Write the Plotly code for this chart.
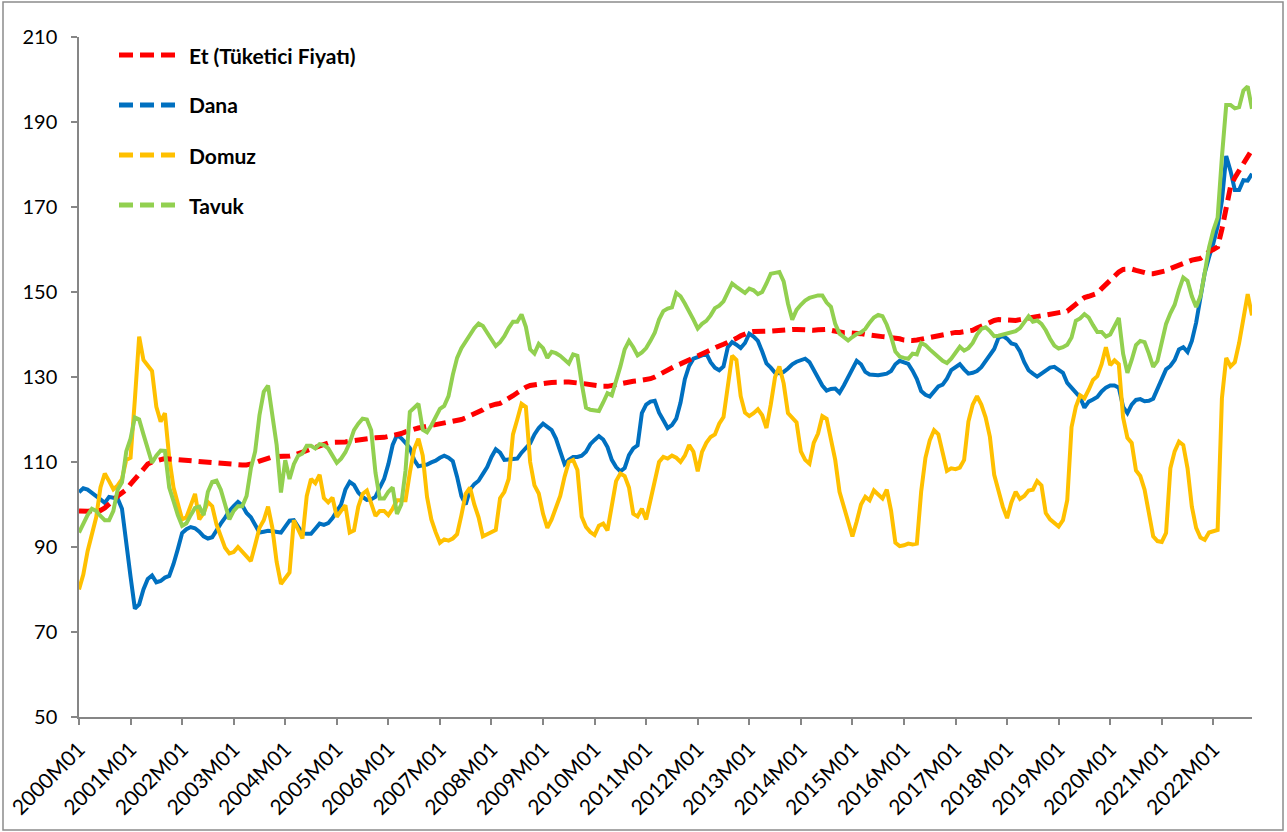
import plotly.graph_objects as go

# ---- categories (2000M01 .. 2022M10) ----
years = list(range(2000, 2023))
months = [f"{y}M{m:02d}" for y in years for m in range(1, 13)][:274]
tick_labels = [f"{y}M01" for y in years]

# ---- series values ----
et = [
    98.5, 98.4, 98.4, 98.5, 98.5, 98.6, 99.2, 100, 101, 102, 102.8, 103.5,
    104.8, 106, 107.2, 108.5, 109.5, 110, 110.3, 110.6, 110.8, 110.7, 110.6, 110.5,
    110.4, 110.4, 110.3, 110.2, 110.1, 110, 110, 109.9, 109.8, 109.8, 109.7, 109.5,
    109.4, 109.3, 109.3, 109.3, 109.5, 109.8, 110.2, 110.6, 111, 111.2, 111.3, 111.3,
    111.3, 111.4, 111.6, 112, 112.4, 112.8, 113.1, 113.5, 113.9, 114.2, 114.5, 114.6,
    114.6, 114.7, 114.7, 114.9, 115.1, 115.3, 115.5, 115.6, 115.6, 115.7, 115.7, 115.8,
    116, 116.2, 116.3, 116.7, 117.1, 117.5, 117.8, 118, 118.2, 118.4, 118.6, 118.7,
    118.8, 119, 119.2, 119.5, 119.7, 120, 120.4, 120.8, 121.2, 121.7, 122.3, 123,
    123.4, 123.6, 123.8, 124.3, 125, 125.6, 126.3, 127, 127.6, 128, 128.2, 128.4,
    128.5, 128.6, 128.7, 128.8, 128.8, 128.8, 128.8, 128.8, 128.6, 128.5, 128.3, 128.1,
    128, 127.9, 127.8, 127.8, 128, 128.2, 128.5, 128.8, 128.9, 129, 129.1, 129.2,
    129.4, 129.6, 130, 130.6, 131.2, 131.7, 132.2, 132.7, 133.1, 133.6, 134.1, 134.6,
    135.1, 135.5, 136, 136.5, 137, 137.3, 137.7, 138.1, 138.6, 139.1, 139.7, 140.2,
    140.5, 140.7, 140.8, 140.8, 140.8, 140.8, 140.9, 141.1, 141.2, 141.2, 141.2, 141.2,
    141.1, 141.1, 141, 141, 141.1, 141.2, 141.2, 141, 140.8, 140.5, 140.4, 140.4,
    140.4, 140.3, 140.2, 140, 139.8, 139.7, 139.6, 139.5, 139.4, 139.3, 139.2, 139,
    138.7, 138.6, 138.6, 138.7, 138.9, 139.1, 139.4, 139.6, 139.8, 140, 140.2, 140.4,
    140.5, 140.5, 140.6, 140.7, 141, 141.5, 142, 142.6, 143, 143.3, 143.5, 143.4,
    143.3, 143.2, 143.3, 143.5, 143.7, 143.9, 144.1, 144.3, 144.5, 144.6, 144.8, 145,
    145.1, 145.3, 145.5, 146.3, 147, 148, 148.7, 149, 149.2, 149.7, 150.8, 151.8,
    152.8, 153.8, 154.7, 155.3, 155.5, 155.4, 155.1, 154.8, 154.5, 154.3, 154.3, 154.5,
    154.7, 155, 155.5, 155.9, 156.4, 156.9, 157.3, 157.5, 157.7, 157.9, 158.6, 159.5,
    160, 160.6, 164.8, 170.5, 174.8, 176.9, 178.5, 180.5, 181.6, 183.5,
]

dana = [
    102.9, 103.8, 103.5, 102.8, 102, 101.2, 100.4, 101.8, 101.6, 101.4, 99, 90,
    83, 75.5, 76.5, 80, 82.5, 83.3, 81.7, 82, 82.8, 83.2, 86, 89.5,
    93.3, 94.2, 94.7, 94.4, 93.6, 92.5, 92, 92.3, 94, 95.5, 96.9, 98.5,
    99.6, 100.6, 99.8, 98, 97, 95, 93.4, 93.6, 93.8, 93.7, 93.5, 93.4,
    94.8, 96.2, 96.3, 94.8, 93.2, 93.1, 93.1, 94.3, 95.5, 95.2, 95.6, 96.8,
    98.5, 100, 103.5, 105.3, 104.6, 102.8, 101.8, 101.1, 101.2, 101.8, 104, 106,
    109.5, 114, 116.3, 115.6, 114.5, 113.3, 110.5, 109, 109.2, 109.4, 109.9, 110.3,
    111, 111.5, 111, 110.2, 106.5, 102, 100, 103.5, 104.8, 105.6, 107.2, 108.8,
    111.2, 113, 112.2, 110.5, 110.6, 110.7, 110.8, 112.2, 113.4, 114.4, 116.5, 118,
    119, 118.3, 117.5, 115.5, 112.5, 109.5, 110.5, 111.2, 111.2, 111.5, 112.4, 114.2,
    115.2, 116.1, 115.3, 113.5, 110.5, 108.8, 107.8, 108.6, 111.6, 113.2, 113.9, 121.5,
    123.5, 124.2, 124.4, 121.6, 119.8, 118, 118.7, 120.2, 124, 129.5, 132.6, 134.3,
    134.7, 135, 135.5, 133.5, 132.2, 131.6, 132.5, 137, 138.2, 137.6, 136.8, 138,
    140.2, 139.5, 138.5, 136, 133.2, 132.2, 131, 130.9, 131.2, 132, 133, 133.6,
    134, 134.3, 133.5, 131.8, 129.8, 128, 126.8, 127.2, 127.3, 126.3, 128, 130,
    132.2, 133.8, 133, 131.2, 130.6, 130.4, 130.4, 130.6, 130.8, 131.4, 133, 133.8,
    133.5, 133.1, 131.5, 129.5, 126.7, 125.8, 125.4, 126.6, 127.8, 128.2, 129.6, 131.6,
    132.3, 133, 131.8, 130.8, 131, 131.4, 132.3, 133.8, 135.2, 136.6, 139.2, 139.7,
    139, 137.9, 137.6, 136, 133.5, 131.6, 130.8, 130.1, 130.8, 131.6, 132.2, 132.4,
    131.8, 131, 128.6, 127.5, 126.5, 125.2, 122.8, 124.2, 124.7, 125.3, 126.6, 127.5,
    128, 128, 127.5, 123, 121.5, 123.5, 124.6, 124.8, 124.3, 124.4, 124.9, 127.2,
    129.5, 131.8, 132.6, 134, 136.5, 137, 135.9, 138.5, 142.8, 148.5, 154.5, 158.2,
    161.4, 165.5, 171.5, 182, 178.5, 174, 174, 176.3, 176.2, 177.8,
]

domuz = [
    80, 83.5, 89, 93.5, 97, 104, 107.3, 105.5, 103.6, 104.5, 106, 110.5,
    111, 124.7, 139.5, 134, 132.5, 131.4, 123, 119.5, 121.5, 111, 104, 100,
    96.5, 97, 100, 102.5, 96.5, 98, 100.6, 99.6, 95.3, 92.5, 89.8, 88.5,
    88.8, 90, 89, 88, 86.7, 90.5, 94.5, 96.3, 99.5, 94.5, 86.5, 81.3,
    82.5, 84, 96.3, 94, 92, 102, 106, 105, 107, 101.5, 100.5, 101.6,
    97.1, 98.5, 99.8, 93.4, 93.9, 99.5, 102.5, 103.3, 100.5, 97.3, 98.5, 98.5,
    97.5, 99, 101, 101, 101, 107.5, 113, 115.5, 111.5, 101.8, 96.5, 93.5,
    91, 91.8, 91.5, 92, 93, 97.5, 102.5, 104, 100, 97, 92.5, 93,
    93.5, 94, 101.5, 103, 106, 116.5, 120, 123.7, 123, 110, 104.5, 102.6,
    97.8, 94.5, 96.5, 99.5, 102, 106.5, 110, 110.5, 108.1, 97.1, 94.7, 93.5,
    92.8, 95, 95.5, 93.9, 99.2, 105.5, 107.3, 106.7, 104, 97.8, 97.2, 99,
    96.5, 101, 106.5, 110, 111.2, 110.8, 111.5, 111, 110, 111.5, 114, 112.4,
    107.8, 112.4, 114.5, 115.9, 116.5, 119, 120.6, 128.4, 135, 134, 125.5, 121.6,
    120.8, 121.5, 122.4, 121, 118, 123.5, 130, 132.5, 128.5, 121.5, 120.3, 119.3,
    112.5, 110.5, 109.6, 114.5, 116.7, 120.8, 120.2, 115.5, 110.5, 103, 99.5, 95.5,
    92.5, 96, 100, 101.8, 101, 103.3, 102.3, 101.4, 103.5, 98.5, 91, 90.2,
    90.4, 90.8, 90.6, 90.8, 103, 111, 115.1, 117.5, 116.5, 112, 107.9, 108.5,
    108.3, 108.7, 110.5, 119.5, 123.5, 125.5, 123.5, 120.5, 115.9, 107, 103, 99.5,
    96.8, 100.5, 103, 101.3, 102, 103.3, 103.5, 105.5, 104.5, 98, 96.5, 95.5,
    94.8, 96.3, 101, 118.2, 123, 125.7, 125, 127, 129.3, 130.2, 133, 137,
    132.8, 133.9, 133, 120.5, 115.7, 114.5, 108, 106.7, 103.5, 98, 92.5, 91.4,
    91.2, 93.3, 108.5, 112.5, 114.8, 114, 108.5, 99.5, 94.5, 92.2, 91.7, 93.4,
    93.7, 94, 125, 134.5, 132.5, 133.5, 138, 144, 149.5, 144.5,
]

tavuk = [
    93.4, 95.5, 97.5, 99, 98.5, 97.3, 96.3, 96.3, 98.5, 103.5, 105.2, 112.5,
    115.5, 120.5, 120, 116.5, 113, 109.8, 111.5, 112.7, 112.6, 104, 100.8, 97.5,
    95, 95.6, 97.5, 99.2, 99.5, 97.5, 103, 105.3, 105.6, 103.5, 100, 96.5,
    98.5, 99.6, 99.6, 102, 108.5, 112.5, 121, 126.5, 128, 121.5, 114, 102.8,
    110.4, 106, 109.5, 111.5, 112, 113.8, 113.8, 113.2, 114.2, 114, 113.2, 111.5,
    109.8, 110.8, 112.3, 114.5, 117.5, 119, 120.2, 120, 117.5, 107.5, 101.4, 101.4,
    103, 104, 97.8, 100, 108, 121.8, 122.8, 123.7, 117.6, 117, 118.6, 120.8,
    122.5, 123.2, 125.5, 130.5, 134.5, 136.8, 138.5, 140.2, 141.5, 142.6, 142, 140.4,
    138.8, 137.3, 138.2, 139.6, 141.5, 143, 143, 144.7, 141.8, 136.5, 135.5, 137.8,
    136.8, 134.5, 135.9, 135.6, 135, 134.2, 133.2, 135.3, 135, 128.5, 122.8, 122.3,
    122.2, 122, 124, 126.2, 125.7, 128.8, 132.5, 136.5, 138.5, 137, 135.1, 135.8,
    136.8, 138.5, 140.4, 143.5, 145.5, 146.1, 146.4, 149.8, 149, 147.3, 145.5, 143.5,
    141.4, 142.5, 143.2, 144.5, 146.2, 146.8, 147.8, 150.2, 152, 151.2, 150.5, 149.8,
    150.8, 150.4, 149.5, 150, 152, 154.3, 154.5, 154.7, 152.5, 147.3, 143.5, 145.8,
    147, 148, 148.6, 149, 149.2, 149.2, 147.5, 146.5, 142.5, 140.2, 139.3, 138.6,
    139.4, 140.1, 140.5, 141.3, 142.8, 144, 144.6, 144.3, 142.3, 139.5, 136, 134.8,
    134.5, 134.3, 135.5, 135.3, 138, 137.5, 136.5, 135.5, 134.5, 133.8, 133.3, 134.3,
    135.7, 137.1, 136.2, 136.8, 138, 140, 141.3, 141.7, 140.8, 139.6, 139.7, 140,
    140.4, 140.6, 140.8, 141.5, 143, 144.3, 143, 143.3, 142.5, 141, 139, 137.4,
    136.7, 137, 137.6, 139.3, 143.2, 143.8, 144.8, 144, 142.2, 140.6, 140.6, 139.5,
    140, 142, 143.9, 135.5, 131, 134, 137.5, 138.5, 138.2, 135.5, 132.4, 133.8,
    138.5, 142.5, 145, 147, 150.5, 153.4, 152.6, 149, 146.5, 149, 154.5, 160.5,
    164.5, 167.5, 181.8, 194, 194, 193.2, 193.5, 197.4, 198.4, 193.1,
]

series_names = ["Et (Tüketici Fiyatı)", "Dana", "Domuz", "Tavuk"]
series_colors = ["#FF0000", "#0070C0", "#FFC000", "#92D050"]
y_ticks = [50, 70, 90, 110, 130, 150, 170, 190, 210]

FONT = "Lato, 'Open Sans', sans-serif"
W, H = 1287, 832
ML, MR, MT, MB = 79, 35, 37, 115
PW, PH = W - ML - MR, H - MT - MB

fig = go.Figure()

# drawing order: Dana, Domuz, Et, Tavuk (top)
fig.add_trace(go.Scatter(x=months, y=dana, mode="lines", name=series_names[1],
                         line=dict(color=series_colors[1], width=4), showlegend=False))
fig.add_trace(go.Scatter(x=months, y=domuz, mode="lines", name=series_names[2],
                         line=dict(color=series_colors[2], width=4), showlegend=False))
fig.add_trace(go.Scatter(x=months, y=et, mode="lines", name=series_names[0],
                         line=dict(color=series_colors[0], width=5, dash="13px,7px"),
                         showlegend=False))
fig.add_trace(go.Scatter(x=months, y=tavuk, mode="lines", name=series_names[3],
                         line=dict(color=series_colors[3], width=4), showlegend=False))


def px_x(px):
    return (px - ML) / PW


def px_y(py):
    return (H - MB - py) / PH


shapes = []
annotations = []
legend_rows = [55, 105, 155, 205]
for name, color, row in zip(series_names, series_colors, legend_rows):
    shapes.append(dict(type="line", xref="paper", yref="paper",
                       x0=px_x(119), x1=px_x(178), y0=px_y(row), y1=px_y(row),
                       line=dict(color=color, width=5, dash="14px,7px")))
    annotations.append(dict(xref="paper", yref="paper", x=px_x(187), y=px_y(row),
                            xanchor="left", yanchor="middle", showarrow=False,
                            text=f"<b>{name}</b>",
                            font=dict(family=FONT, size=21, color="#000000")))

# chart-area border
shapes.append(dict(type="rect", xref="paper", yref="paper",
                   x0=px_x(3), x1=px_x(1283), y0=px_y(830), y1=px_y(2),
                   line=dict(color="#8C8C8C", width=1.5), fillcolor="rgba(0,0,0,0)",
                   layer="below"))

fig.update_layout(
    width=W, height=H,
    margin=dict(l=ML, r=MR, t=MT, b=MB, autoexpand=False),
    paper_bgcolor="white", plot_bgcolor="white",
    font=dict(family=FONT, size=20, color="#000000"),
    shapes=shapes, annotations=annotations,
    showlegend=False,
)
fig.update_xaxes(
    type="category", range=[0, len(months) - 1], automargin=False,
    tickmode="array", tickvals=tick_labels, ticktext=tick_labels,
    tickangle=-45, showgrid=False, zeroline=False,
    showline=True, linecolor="#868686", linewidth=1.5,
    ticks="outside", ticklen=6, tickwidth=1.5, tickcolor="#868686",
    ticklabelstandoff=4,
    tickfont=dict(family=FONT, size=21, color="#000000"),
)
fig.update_yaxes(
    range=[50, 210], tickmode="array", tickvals=y_ticks, automargin=False,
    showgrid=False, zeroline=False,
    showline=True, linecolor="#868686", linewidth=1.5,
    ticks="outside", ticklen=6, tickwidth=1.5, tickcolor="#868686",
    ticklabelstandoff=10,
    tickfont=dict(family=FONT, size=20, color="#000000"),
)

# remove the browser's default 8px page margin so the figure sits at the page origin
fig.write_html("out.html",
               config={"displayModeBar": False},
               post_script="document.body.style.margin='0';document.body.style.overflow='hidden';")
